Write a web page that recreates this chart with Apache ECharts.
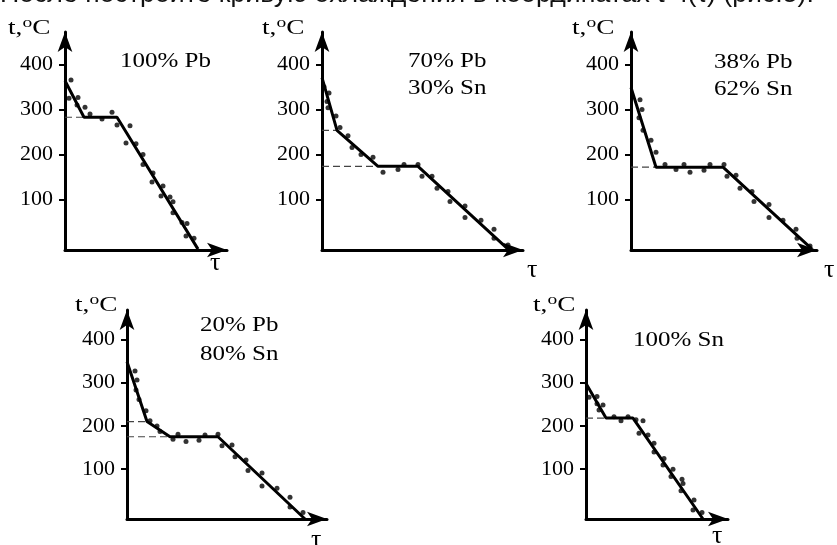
<!DOCTYPE html>
<html><head><meta charset="utf-8">
<script src="https://cdn.jsdelivr.net/npm/echarts@6/dist/echarts.min.js"></script>
<style>html,body{margin:0;padding:0;background:#fff}#c{width:837px;height:545px}</style>
</head><body><div id="c"></div><script>
// ---------- data (τ in arbitrary time units, t in °C) ----------
const headerText = 'После постройте кривую охлаждения в координатах t=f(τ) (рис.5).';
const yAxisTitle = ['t,', 'o', 'C'];
const xAxisTitle = 'τ';
const yTickValues = [100, 200, 300, 400];

const labelsPb100 = ['100% Pb'];
const labelsPb70 = ['70% Pb', '30% Sn'];
const labelsPb38 = ['38% Pb', '62% Sn'];
const labelsPb20 = ['20% Pb', '80% Sn'];
const labelsSn100 = ['100% Sn'];

const curvePb100 = [[0,364],[19,283],[52,283],[133,-10]];
const arrestPb100 = [[[0,283],[19,283]]];
const pointsPb100 = [[6,366],[4,325],[13,327],[12,310],[20,305],[25,290],[37,279],[47,294],[52,266],[65,264],[61,226],[71,224],[78,200],[78,178],[88,159],[87,139],[98,130],[96,108],[105,106],[108,95],[108,71],[117,49],[122,47],[121,19],[129,14]];

const curvePb70 = [[0,371],[15,254],[56,174],[96,174],[186,-10]];
const arrestPb70 = [[[0,254],[15,254]],[[0,174],[56,174]]];
const pointsPb70 = [[2,351],[7,337],[5,318],[6,304],[14,286],[18,260],[26,242],[30,216],[39,200],[51,194],[61,161],[76,167],[82,178],[96,178],[100,152],[110,152],[115,125],[126,118],[128,96],[143,86],[143,60],[159,54],[172,34],[172,14],[186,-1]];

const curvePb38 = [[0,349],[25,172],[92,172],[181,-10]];
const arrestPb38 = [[[0,172],[25,172]]];
const pointsPb38 = [[9,322],[11,300],[8,282],[12,254],[20,232],[25,205],[34,178],[45,167],[53,178],[59,161],[73,165],[79,178],[93,178],[96,152],[105,154],[109,125],[121,118],[123,96],[138,89],[138,60],[152,54],[165,34],[166,14],[179,-3]];

const curvePb20 = [[0,348],[20,210],[43,175],[91,175],[178,-15]];
const arrestPb20 = [[[0,210],[20,210]],[[0,175],[43,175]]];
const pointsPb20 = [[8,327],[10,306],[9,283],[12,261],[19,235],[23,212],[30,200],[33,187],[46,169],[51,181],[59,164],[72,167],[78,179],[91,181],[95,154],[105,156],[108,129],[119,121],[121,97],[135,91],[135,61],[150,56],[163,35],[163,13],[176,0]];

const curveSn100 = [[0,298],[20,218],[47,218],[117,-15]];
const arrestSn100 = [[[0,218],[20,218]]];
const pointsSn100 = [[3,266],[11,268],[11,251],[17,248],[13,237],[28,221],[35,212],[42,221],[50,214],[57,212],[53,183],[62,179],[68,160],[68,140],[78,125],[77,110],[87,100],[85,83],[96,77],[97,67],[95,50],[108,29],[107,6],[116,0]];

// ---------- layout ----------
const SERIF = '"Liberation Serif","Times New Roman",serif';
const SANS = '"Liberation Sans",Arial,sans-serif';
const ARROW_LEN = 20, ARROW_W = 11;
const rows = [
  {base: 250, ppu: 0.45, min: -12, tip: 22, titleY: 28},
  {base: 519, ppu: 0.433, min: -15, tip: 300, titleY: 305}
];
const panels = [
  {ox: 65,  tip: 237, row: 0, curve: curvePb100, arrest: arrestPb100, pts: pointsPb100, labels: labelsPb100, lx: 120, ly: [62],      tx: 8,   tauX: 210, tauY: 263},
  {ox: 322, tip: 533, row: 0, curve: curvePb70,  arrest: arrestPb70,  pts: pointsPb70,  labels: labelsPb70,  lx: 408, ly: [62, 89],  tx: 262, tauX: 527, tauY: 270},
  {ox: 631, tip: 827, row: 0, curve: curvePb38,  arrest: arrestPb38,  pts: pointsPb38,  labels: labelsPb38,  lx: 714, ly: [63, 90],  tx: 572, tauX: 824, tauY: 270},
  {ox: 127, tip: 337, row: 1, curve: curvePb20,  arrest: arrestPb20,  pts: pointsPb20,  labels: labelsPb20,  lx: 200, ly: [326, 355],tx: 75,  tauX: 311, tauY: 540},
  {ox: 586, tip: 738, row: 1, curve: curveSn100, arrest: arrestSn100, pts: pointsSn100, labels: labelsSn100, lx: 633, ly: [341],     tx: 533, tauX: 712, tauY: 536}
];

const grid = [], xAxis = [], yAxis = [], series = [], graphic = [];
panels.forEach((p, i) => {
  const r = rows[p.row];
  const top = r.tip + ARROW_LEN / 2;
  const height = r.base - top;
  const yMax = r.min + height / r.ppu;
  const width = p.tip - ARROW_LEN / 2 - p.ox;
  grid.push({left: p.ox, top: top, width: width, height: height, containLabel: false, outerBoundsMode: 'none'});
  const axisLine = {show: true, onZero: false, symbol: ['none', 'arrow'], symbolSize: [ARROW_W, ARROW_LEN],
    lineStyle: {color: '#000', width: 3}};
  xAxis.push({type: 'value', gridIndex: i, min: 0, max: width, axisLine: axisLine,
    axisTick: {show: false}, axisLabel: {show: false}, splitLine: {show: false}});
  yAxis.push({type: 'value', gridIndex: i, min: r.min, max: yMax, axisLine: axisLine,
    axisTick: {show: true, customValues: yTickValues, length: 6, lineStyle: {color: '#000', width: 2}},
    axisLabel: {show: true, customValues: yTickValues, margin: 12, fontFamily: SERIF, fontSize: 22, color: '#000'},
    splitLine: {show: false}});
  p.arrest.forEach(seg => series.push({type: 'line', xAxisIndex: i, yAxisIndex: i, data: seg, symbol: 'none',
    silent: true, z: 2, lineStyle: {color: '#444', width: 1.2, type: [7, 4]}}));
  series.push({type: 'line', xAxisIndex: i, yAxisIndex: i, data: p.curve, symbol: 'none', silent: true, z: 3,
    lineStyle: {color: '#000', width: 3}});
  series.push({type: 'scatter', xAxisIndex: i, yAxisIndex: i, data: p.pts, symbol: 'circle', symbolSize: 5,
    silent: true, z: 4, itemStyle: {color: '#000'}});
  graphic.push({type: 'text', x: p.tx, y: r.titleY, scaleX: 1.3, originX: 0,
    style: {text: '{a|' + yAxisTitle[0] + '}{s|' + yAxisTitle[1] + '}{a|' + yAxisTitle[2] + '}', verticalAlign: 'middle', align: 'left',
      rich: {a: {fontFamily: SERIF, fontSize: 21, fill: '#000', lineHeight: 24},
             s: {fontFamily: SERIF, fontSize: 15, fill: '#000', verticalAlign: 'top', lineHeight: 14}}}});
  graphic.push({type: 'text', x: p.tauX, y: p.tauY,
    style: {text: xAxisTitle, fontFamily: SERIF, fontSize: 26, fill: '#000', verticalAlign: 'middle', align: 'left'}});
  p.labels.forEach((t, k) => graphic.push({type: 'text', x: p.lx, y: p.ly[k], scaleX: 1.25, originX: 0,
    style: {text: t, fontFamily: SERIF, fontSize: 20, fill: '#000', verticalAlign: 'middle', align: 'left'}}));
});
graphic.push({type: 'text', x: 0, y: 8,
  style: {text: headerText, fontFamily: SANS, fontSize: 26.7, fill: '#111', verticalAlign: 'bottom', align: 'left'}});

const chart = echarts.init(document.getElementById('c'), null, {renderer: 'canvas'});
chart.setOption({backgroundColor: '#fff', animation: false, grid, xAxis, yAxis, series, graphic});
</script></body></html>
